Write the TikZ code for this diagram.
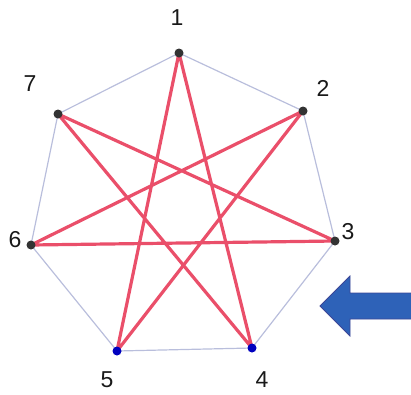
\documentclass[tikz,border=0pt]{standalone}
\usepackage{fontspec}
\setmainfont{Liberation Sans}
\definecolor{starred}{RGB}{232,60,90}
\definecolor{outl}{RGB}{185,190,220}
\definecolor{arrowblue}{RGB}{46,98,184}
\definecolor{arrowedge}{RGB}{60,70,150}
\begin{document}
\begin{tikzpicture}[x=1pt,y=-1pt,
  outline/.style={draw=outl, line width=1.2pt},
  starline/.style={draw=starred, line width=3.2pt, opacity=0.9},
  vdot/.style={circle, fill=black!80, inner sep=0pt, minimum size=9pt},
  bdot/.style={circle, fill=blue!75!black, inner sep=0pt, minimum size=9pt},
  lab/.style={font=\fontsize{23}{23}\selectfont, text=black!90, inner sep=0pt}]
\useasboundingbox (0,0) rectangle (411,394);
\coordinate (p1) at (179,53);
\coordinate (p2) at (303,111);
\coordinate (p3) at (335,241);
\coordinate (p4) at (252,348);
\coordinate (p5) at (117,351);
\coordinate (p6) at (31,245);
\coordinate (p7) at (58,114);
\draw[outline] (p1) -- (p2) -- (p3) -- (p4) -- (p5) -- (p6) -- (p7) -- cycle;
\draw[starline] (p1) -- (p4) (p1) -- (p5) (p2) -- (p5) (p2) -- (p6) (p3) -- (p6) (p3) -- (p7) (p4) -- (p7);
\node[vdot] (d1) at (p1) {};
\node[vdot] (d2) at (p2) {};
\node[vdot] (d3) at (p3) {};
\node[bdot] (d4) at (p4) {};
\node[bdot] (d5) at (p5) {};
\node[vdot] (d6) at (p6) {};
\node[vdot] (d7) at (p7) {};
\node[lab] (l1) at (177,18) {1};
\node[lab] (l2) at (323,88) {2};
\node[lab] (l3) at (348,232) {3};
\node[lab] (l4) at (262,380) {4};
\node[lab] (l5) at (107,380) {5};
\node[lab] (l6) at (15,240) {6};
\node[lab] (l7) at (30,84) {7};
\fill[fill=arrowblue, draw=arrowedge, line width=0.8pt]
  (320,306) -- (350,276) -- (350,293) -- (412,293) -- (412,319) -- (350,319) -- (350,336) -- cycle;
\end{tikzpicture}
\end{document}
